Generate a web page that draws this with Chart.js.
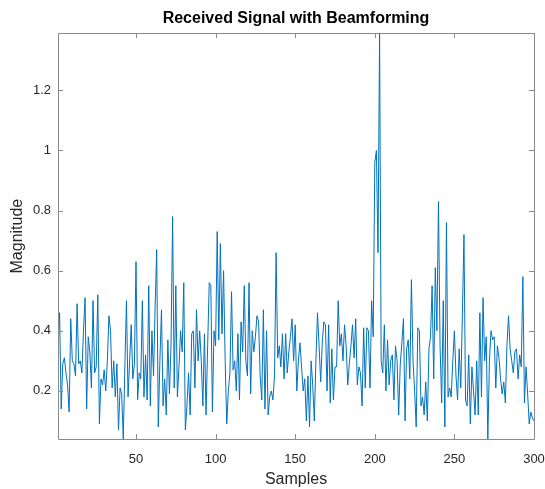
<!DOCTYPE html>
<html><head><meta charset="utf-8">
<script src="https://cdn.jsdelivr.net/npm/chart.js@4"></script>
<style>html,body{margin:0;padding:0;background:#fff}</style>
</head><body>
<canvas id="c" width="545" height="489"></canvas>
<script>
const magnitude = [
 0.35,0.46,0.14,0.29,0.31,0.26,0.22,0.13,0.44,0.30,
 0.29,0.25,0.49,0.29,0.30,0.26,0.40,0.51,0.14,0.38,
 0.33,0.21,0.50,0.26,0.28,0.52,0.09,0.24,0.22,0.27,
 0.20,0.30,0.45,0.40,0.21,0.30,0.18,0.29,0.07,0.21,
 0.19,0.04,0.28,0.50,0.18,0.30,0.42,0.24,0.29,0.63,
 0.17,0.26,0.24,0.50,0.18,0.32,0.17,0.55,0.15,0.40,
 0.25,0.48,0.67,0.08,0.30,0.47,0.15,0.24,0.12,0.37,
 0.19,0.35,0.78,0.21,0.55,0.18,0.28,0.40,0.33,0.56,
 0.07,0.15,0.26,0.12,0.39,0.40,0.21,0.47,0.30,0.40,
 0.30,0.15,0.39,0.12,0.35,0.56,0.55,0.13,0.40,0.35,
 0.73,0.37,0.69,0.39,0.60,0.30,0.09,0.20,0.26,0.53,
 0.27,0.30,0.20,0.39,0.17,0.43,0.33,0.55,0.30,0.25,
 0.56,0.19,0.40,0.33,0.38,0.45,0.43,0.25,0.17,0.47,
 0.14,0.40,0.12,0.18,0.20,0.17,0.25,0.66,0.31,0.35,
 0.28,0.39,0.24,0.39,0.26,0.33,0.38,0.44,0.30,0.42,
 0.20,0.30,0.36,0.28,0.20,0.24,0.10,0.25,0.08,0.30,
 0.22,0.10,0.30,0.46,0.35,0.23,0.36,0.43,0.42,0.20,
 0.42,0.16,0.34,0.17,0.28,0.28,0.50,0.35,0.39,0.30,
 0.42,0.35,0.22,0.29,0.35,0.42,0.31,0.44,0.22,0.28,
 0.26,0.15,0.41,0.21,0.41,0.40,0.21,0.50,0.38,0.96,
 1.00,0.66,1.39,0.30,0.26,0.42,0.20,0.37,0.22,0.30,
 0.32,0.17,0.35,0.30,0.12,0.29,0.36,0.44,0.10,0.34,
 0.37,0.24,0.57,0.30,0.20,0.08,0.41,0.40,0.15,0.18,
 0.12,0.23,0.10,0.34,0.38,0.55,0.24,0.61,0.40,0.83,
 0.35,0.16,0.50,0.08,0.76,0.18,0.21,0.18,0.30,0.40,
 0.25,0.17,0.34,0.21,0.45,0.72,0.17,0.15,0.32,0.09,
 0.28,0.20,0.12,0.30,0.12,0.46,0.18,0.51,0.30,0.38,
 0.04,0.30,0.40,0.37,0.38,0.21,0.35,0.31,0.24,0.19,
 0.23,0.16,0.35,0.45,0.34,0.30,0.26,0.33,0.34,0.24,
 0.32,0.28,0.58,0.16,0.28,0.19,0.09,0.13,0.11,0.10
];
const samples = magnitude.map((_, i) => i + 1);
const xTickValues = [50, 100, 150, 200, 250, 300];
const yTickValues = [0.2, 0.4, 0.6, 0.8, 1, 1.2];
const titleText = 'Received Signal with Beamforming';
const xLabel = 'Samples';
const yLabel = 'Magnitude';

const axisColor = '#262626';
const boxColor = '#8a8a8a';
const FONT = 'Liberation Sans, Arial, Helvetica, sans-serif';

const boxPlugin = {
  id: 'matlabBox',
  afterDraw(chart) {
    const {ctx, chartArea: a, scales} = chart;
    ctx.save();
    ctx.strokeStyle = boxColor;
    ctx.lineWidth = 1;
    ctx.beginPath();
    ctx.rect(Math.round(a.left) + 0.5, Math.round(a.top) + 0.5,
             Math.round(a.right - a.left), Math.round(a.bottom - a.top));
    const tl = 5;
    scales.x.ticks.forEach(t => {
      const px = Math.round(scales.x.getPixelForValue(t.value)) + 0.5;
      ctx.moveTo(px, a.bottom); ctx.lineTo(px, a.bottom - tl);
      ctx.moveTo(px, a.top); ctx.lineTo(px, a.top + tl);
    });
    scales.y.ticks.forEach(t => {
      const py = Math.round(scales.y.getPixelForValue(t.value)) + 0.5;
      ctx.moveTo(a.left, py); ctx.lineTo(a.left + tl, py);
      ctx.moveTo(a.right, py); ctx.lineTo(a.right - tl, py);
    });
    ctx.stroke();
    ctx.restore();
  }
};

new Chart(document.getElementById('c'), {
  type: 'line',
  data: {
    datasets: [{
      data: samples.map((s, i) => ({x: s, y: magnitude[i]})),
      borderColor: '#0072BD',
      borderWidth: 1,
      pointRadius: 0,
      tension: 0,
      fill: false
    }]
  },
  options: {
    responsive: false,
    animation: false,
    layout: {padding: {left: 0, right: 11, top: 0, bottom: 0}},
    plugins: {
      legend: {display: false},
      tooltip: {enabled: false},
      title: {
        display: true, text: titleText, fullSize: false,
        color: '#000', font: {family: FONT, size: 16, weight: 'bold'},
        padding: {top: 9, bottom: 5}
      }
    },
    scales: {
      x: {
        type: 'linear', min: 1, max: 300,
        grid: {display: false, drawTicks: false},
        border: {display: false},
        afterBuildTicks: s => { s.ticks = xTickValues.map(v => ({value: v})); },
        afterFit: s => { s.height = 50; s.paddingLeft = 0; s.paddingRight = 0; },
        ticks: {color: axisColor, font: {family: FONT, size: 13}, padding: 13, maxRotation: 0,
                callback: v => String(v)},
        title: {display: true, text: xLabel, color: axisColor,
                font: {family: FONT, size: 16}, padding: {top: 0, bottom: 0}}
      },
      y: {
        type: 'linear', min: Math.min(...magnitude), max: Math.max(...magnitude),
        grid: {display: false, drawTicks: false},
        border: {display: false},
        afterBuildTicks: s => { s.ticks = yTickValues.map(v => ({value: v})); },
        afterFit: s => { s.width = 58; s.paddingTop = 0; s.paddingBottom = 0; },
        ticks: {color: axisColor, font: {family: FONT, size: 13}, padding: 7,
                callback: v => String(v)},
        title: {display: true, text: yLabel, color: axisColor,
                font: {family: FONT, size: 16}, padding: {top: 8, bottom: 0}}
      }
    }
  },
  plugins: [boxPlugin]
});
</script>
</body></html>
